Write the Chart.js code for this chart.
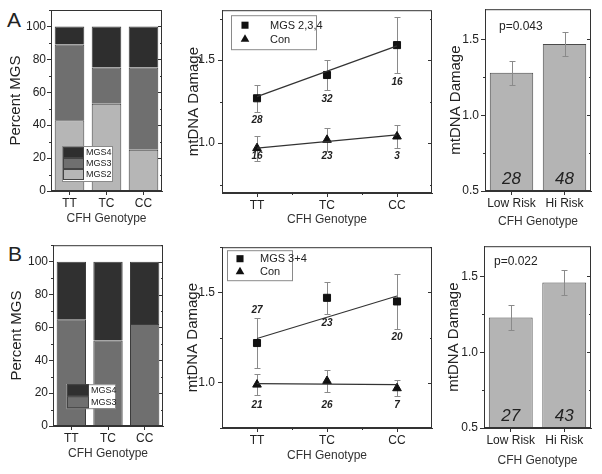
<!DOCTYPE html>
<html>
<head>
<meta charset="utf-8">
<script src="https://cdn.jsdelivr.net/npm/chart.js@4.4.1/dist/chart.umd.min.js"></script>
<style>
  body { margin: 0; background: #fff; width: 602px; height: 474px; position: relative; overflow: hidden;
         font-family: "Liberation Sans", Arial, sans-serif; }
  canvas { position: absolute; }
  .panel { position: absolute; font-size: 21px; line-height: 20px; color: #222; }
</style>
</head>
<body>
<div class="panel" style="left:7px;top:10px">A</div>
<div class="panel" style="left:8px;top:244px">B</div>
<canvas id="a1"></canvas>
<canvas id="a2"></canvas>
<canvas id="a3"></canvas>
<canvas id="b1"></canvas>
<canvas id="b2"></canvas>
<canvas id="b3"></canvas>
<script>
// categories
const genotypes = ['TT', 'TC', 'CC'];
const riskGroups = ['Low Risk', 'Hi Risk'];

// A: percent MGS per genotype
const aMgs2 = [43, 53, 25];
const aMgs3 = [46, 22, 50];
const aMgs4 = [11, 25, 25];
// B: percent MGS per genotype
const bMgs3 = [65, 52, 62];
const bMgs4 = [35, 48, 38];

// A: mtDNA damage by genotype
const aMgsMean = [1.27, 1.41, 1.59];
const aMgsErr = [0.08, 0.09, 0.17];
const aMgsN = [28, 32, 16];
const aConMean = [0.97, 1.02, 1.04];
const aConErr = [0.075, 0.07, 0.07];
const aConN = [16, 23, 3];
const aMgsFit = [1.28, 1.585];   // fitted line at TT and CC
const aConFit = [0.97, 1.05];

// B: mtDNA damage by genotype
const bMgsMean = [1.22, 1.47, 1.45];
const bMgsErr = [0.14, 0.09, 0.15];
const bMgsN = [27, 23, 20];
const bConMean = [0.99, 1.01, 0.97];
const bConErr = [0.06, 0.06, 0.045];
const bConN = [21, 26, 7];
const bMgsFit = [1.245, 1.48];
const bConFit = [0.995, 0.99];

// risk groups
const aRiskMean = [1.28, 1.47];
const aRiskErr = [0.08, 0.08];
const aRiskN = [28, 48];
const aPval = 'p=0.043';
const bRiskMean = [1.23, 1.46];
const bRiskErr = [0.08, 0.08];
const bRiskN = [27, 43];
const bPval = 'p=0.022';

const FONT = '"Liberation Sans", Arial, sans-serif';
Chart.defaults.font.family = FONT;
Chart.defaults.color = '#222';
Chart.defaults.animation = false;

const isMult = (v, s) => Math.abs(v / s - Math.round(v / s)) < 1e-6;

// box around plot + minor / mirrored ticks
const frame = {
  id: 'frame',
  afterDraw(chart, args, opts) {
    const {ctx, chartArea: ca} = chart;
    const ys = chart.scales.y, xs = chart.scales.x;
    ctx.save();
    ctx.strokeStyle = '#333';
    ctx.lineWidth = 1;
    ctx.strokeRect(ca.left + 0.5, ca.top + 0.5, ca.width - 1, ca.height - 1);
    if (opts.minor) {
      const start = Math.ceil(ys.min / opts.minor - 1e-9) * opts.minor;
      ctx.beginPath();
      for (let v = start; v <= ys.max + 1e-9; v += opts.minor) {
        const y = Math.round(ys.getPixelForValue(v)) + 0.5;
        const major = isMult(v, opts.major);
        if (!major) { ctx.moveTo(ca.left, y); ctx.lineTo(ca.left - 2, y); }
        ctx.moveTo(ca.right, y); ctx.lineTo(ca.right - (major ? 4 : 2), y);
      }
      if (opts.minorX) {
        for (let i = 1; i < xs.ticks.length; i++) {
          const x = Math.round((xs.getPixelForTick(i) + xs.getPixelForTick(i - 1)) / 2) + 0.5;
          ctx.moveTo(x, ca.bottom); ctx.lineTo(x, ca.bottom + 2);
        }
      }
      ctx.stroke();
    }
    ctx.restore();
  }
};

function drawErr(chart, onTop) {
  const {ctx} = chart;
  const ys = chart.scales.y;
  chart.data.datasets.forEach((ds, di) => {
    if (!ds.errors || !!ds.errOnTop !== onTop) return;
    const meta = chart.getDatasetMeta(di);
    ctx.save();
    ctx.strokeStyle = '#8a8a8a';
    ctx.lineWidth = 1;
    ctx.beginPath();
    ds.errors.forEach((e, i) => {
      const x = Math.round(meta.data[i].x) + 0.5;
      const hi = Math.round(ys.getPixelForValue(ds.data[i] + e)) + 0.5;
      const lo = Math.round(ys.getPixelForValue(ds.data[i] - e)) + 0.5;
      ctx.moveTo(x, hi); ctx.lineTo(x, lo);
      ctx.moveTo(x - 3, hi); ctx.lineTo(x + 3, hi);
      ctx.moveTo(x - 3, lo); ctx.lineTo(x + 3, lo);
    });
    ctx.stroke();
    ctx.restore();
  });
}

const errBars = {
  id: 'errBars',
  beforeDatasetsDraw(chart) { drawErr(chart, false); },
  afterDatasetsDraw(chart) { drawErr(chart, true); }
};

// n counts next to the points / inside bars, and the p value
const counts = {
  id: 'counts',
  afterDatasetsDraw(chart, args, opts) {
    const {ctx, chartArea: ca} = chart;
    const ys = chart.scales.y;
    ctx.save();
    ctx.textAlign = 'center';
    ctx.textBaseline = 'middle';
    ctx.fillStyle = '#222';
    chart.data.datasets.forEach((ds, di) => {
      if (!ds.counts) return;
      const meta = chart.getDatasetMeta(di);
      ds.counts.forEach((n, i) => {
        const x = meta.data[i].x;
        let y;
        const pos = ds.countPos ? ds.countPos[i] : null;
        if (ds.countRow !== undefined) y = ys.getPixelForValue(ds.countRow);
        else if (pos === 'above') y = ys.getPixelForValue(ds.data[i] + ds.errors[i]) - 7;
        else if (pos === 'below') y = ys.getPixelForValue(ds.data[i] - ds.errors[i]) + 9;
        else y = ca.bottom - 12;
        ctx.font = ds.countFont;
        ctx.fillText(String(n), x, y);
      });
    });
    if (opts.text) {
      ctx.textAlign = 'left';
      ctx.font = '12px ' + FONT;
      ctx.fillText(opts.text, ca.left + opts.dx, ca.top + opts.dy);
    }
    ctx.restore();
  }
};

// legend box inside the plot
function marker(ctx, style, x, y, r) {
  ctx.beginPath();
  if (style === 'rect') {
    const s = r * Math.SQRT1_2;
    ctx.rect(x - s, y - s, 2 * s, 2 * s);
  } else {
    ctx.moveTo(x, y - r);
    ctx.lineTo(x + r * 0.866, y + r * 0.5);
    ctx.lineTo(x - r * 0.866, y + r * 0.5);
    ctx.closePath();
  }
  ctx.fill();
}

const boxLegend = {
  id: 'boxLegend',
  afterDatasetsDraw(chart, args, opts) {
    if (!opts.items) return;
    const {ctx, chartArea: ca} = chart;
    const x0 = ca.left + opts.x, y0 = ca.top + opts.y;
    const h = opts.rowH * opts.items.length + 2 * opts.pad;
    ctx.save();
    ctx.fillStyle = '#fff';
    ctx.fillRect(x0, y0, opts.w, h);
    ctx.strokeStyle = '#8a8a8a';
    ctx.lineWidth = 1;
    ctx.strokeRect(x0 + 0.5, y0 + 0.5, opts.w, h);
    ctx.font = opts.fontSize + 'px ' + FONT;
    ctx.textBaseline = 'middle';
    opts.items.forEach((di, i) => {
      const ds = chart.data.datasets[di];
      const ry = y0 + opts.pad + i * opts.rowH;
      if (ds.type === 'bar' || chart.config.type === 'bar') {
        ctx.fillStyle = ds.backgroundColor;
        ctx.fillRect(x0 + 1, ry, opts.sw, opts.rowH);
        ctx.strokeStyle = '#444';
        ctx.strokeRect(x0 + 1.5, ry + 0.5, opts.sw - 1, opts.rowH - 1);
      } else {
        ctx.fillStyle = '#111';
        marker(ctx, ds.pointStyle, x0 + opts.sw / 2, ry + opts.rowH / 2, 5);
      }
      ctx.fillStyle = '#222';
      ctx.fillText(ds.label, x0 + opts.sw + opts.gap, ry + opts.rowH / 2 + 0.5);
    });
    ctx.restore();
  }
};

function axes(o) {
  return {
    x: {
      type: 'category', offset: true, stacked: !!o.stacked,
      grid: { display: true, drawOnChartArea: false, drawTicks: true, tickLength: 4, offset: false, color: '#333' },
      border: { display: true, color: '#333' },
      ticks: { color: '#222', font: { size: 12 }, padding: 1, maxRotation: 0, autoSkip: false },
      title: { display: true, text: 'CFH Genotype', color: '#333', font: { size: 12 }, padding: { top: 0, bottom: o.xTitlePad } },
      afterFit: s => { s.height = o.xH; }
    },
    y: {
      min: o.min, max: o.max, stacked: !!o.stacked,
      grid: { drawOnChartArea: false, drawTicks: true, tickLength: 4, color: '#333' },
      border: { display: true, color: '#333' },
      ticks: { stepSize: o.minor, color: '#222', font: { size: 12 }, padding: o.tickPad, callback: o.fmt },
      title: { display: true, text: o.yTitle, color: '#222', font: { size: 15 }, padding: { top: o.yTitlePad, bottom: 0 } },
      afterBuildTicks: s => { s.ticks = s.ticks.filter(t => isMult(t.value, o.step)); },
      afterFit: s => { s.width = o.yW; }
    }
  };
}

function place(id, left, top, w, h) {
  const c = document.getElementById(id);
  c.width = w; c.height = h;
  c.style.left = left + 'px'; c.style.top = top + 'px';
  c.style.width = w + 'px'; c.style.height = h + 'px';
  return c;
}

const basePlugins = [frame, errBars, counts, boxLegend];

function stackChart(id, top, area, sets, legend, xTitlePad, yTitlePad) {
  const c = place(id, 0, top, 175, 237);
  new Chart(c, {
    type: 'bar',
    data: {
      labels: genotypes,
      datasets: sets.map(s => ({
        label: s.label, data: s.data, backgroundColor: s.color,
        borderColor: '#3c3c3c', borderWidth: 1, barPercentage: 0.8, categoryPercentage: 1
      }))
    },
    options: {
      responsive: false,
      layout: { padding: { left: 0, top: area.t - top, right: 175 - area.r, bottom: 0 } },
      scales: axes({ stacked: true, min: 0, max: 110, step: 20, minor: 10, fmt: v => v, tickPad: 1,
        yTitle: 'Percent MGS', yTitlePad: yTitlePad, yW: area.l, xH: top + 237 - area.b, xTitlePad: xTitlePad }),
      plugins: { legend: { display: false }, tooltip: { enabled: false },
        frame: { minor: 10, major: 20 }, boxLegend: legend }
    },
    plugins: basePlugins
  });
}

function lineChart(id, top, area, yMin, yMax, mgs, con, legend, xTitlePad, yTitlePad) {
  const c = place(id, 175, top, 270, 237);
  const pt = { showLine: false, borderColor: '#111', backgroundColor: '#111', errOnTop: false,
    countFont: 'italic bold 10px ' + FONT };
  const fit = f => ({ type: 'line', data: [{ x: 'TT', y: f[0] }, { x: 'CC', y: f[1] }],
    borderColor: '#333', borderWidth: 1.2, pointRadius: 0 });
  new Chart(c, {
    type: 'line',
    data: {
      labels: genotypes,
      datasets: [
        fit(mgs.fit), fit(con.fit),
        Object.assign({ label: mgs.label, data: mgs.mean, errors: mgs.err, counts: mgs.n, countPos: mgs.pos,
          pointStyle: 'rect', pointRadius: 5 }, pt),
        Object.assign({ label: 'Con', data: con.mean, errors: con.err, counts: con.n, countRow: con.row,
          pointStyle: 'triangle', pointRadius: 5 }, pt)
      ]
    },
    options: {
      responsive: false,
      layout: { padding: { left: 0, top: area.t - top, right: 445 - area.r, bottom: 0 } },
      scales: axes({ min: yMin, max: yMax, step: 0.5, minor: 0.25, fmt: v => v.toFixed(1), tickPad: 3,
        yTitle: 'mtDNA Damage', yTitlePad: yTitlePad, yW: area.l - 175, xH: top + 237 - area.b, xTitlePad: xTitlePad }),
      plugins: { legend: { display: false }, tooltip: { enabled: false },
        frame: { minor: 0.25, major: 0.5, minorX: true }, boxLegend: legend }
    },
    plugins: basePlugins
  });
}

function riskChart(id, top, area, mean, err, n, pval, pPos, xTitlePad, yTitlePad) {
  const c = place(id, 445, top, 157, 237);
  new Chart(c, {
    type: 'bar',
    data: {
      labels: riskGroups,
      datasets: [{ data: mean, errors: err, errOnTop: true, counts: n, countFont: 'italic 17px ' + FONT,
        backgroundColor: '#b4b4b4', borderColor: '#4a4a4a', borderWidth: 1,
        barPercentage: 0.82, categoryPercentage: 1 }]
    },
    options: {
      responsive: false,
      layout: { padding: { left: 0, top: area.t - top, right: 602 - area.r, bottom: 0 } },
      scales: axes({ min: 0.5, max: 1.7, step: 0.5, minor: 0.25, fmt: v => v.toFixed(1), tickPad: 2,
        yTitle: 'mtDNA Damage', yTitlePad: yTitlePad, yW: area.l - 445, xH: top + 237 - area.b, xTitlePad: xTitlePad }),
      plugins: { legend: { display: false }, tooltip: { enabled: false },
        frame: { minor: 0.25, major: 0.5 }, counts: { text: pval, dx: pPos[0], dy: pPos[1] } }
    },
    plugins: basePlugins
  });
}

// row A
stackChart('a1', 0, { l: 51, t: 10, r: 162, b: 191 }, [
  { label: 'MGS2', data: aMgs2, color: '#b6b6b6' },
  { label: 'MGS3', data: aMgs3, color: '#6f6f6f' },
  { label: 'MGS4', data: aMgs4, color: '#2e2e2e' }
], { items: [2, 1, 0], x: 11, y: 136, w: 50, rowH: 11, pad: 1, sw: 21, gap: 3, fontSize: 9 }, 11, 7);

lineChart('a2', 0, { l: 222, t: 9, r: 432, b: 193 }, 0.7, 1.8,
  { label: 'MGS 2,3,4', mean: aMgsMean, err: aMgsErr, n: aMgsN, pos: ['below', 'below', 'below'], fit: aMgsFit },
  { mean: aConMean, err: aConErr, n: aConN, row: 0.92, fit: aConFit },
  { items: [2, 3], x: 9, y: 5, w: 85, rowH: 14, pad: 3, sw: 28, gap: 11, fontSize: 11 }, 10, 10);

riskChart('a3', 0, { l: 485, t: 9, r: 591, b: 191 }, aRiskMean, aRiskErr, aRiskN, aPval, [14, 17], 8, 2);

// row B
stackChart('b1', 237, { l: 53, t: 242, r: 163, b: 426 }, [
  { label: 'MGS3', data: bMgs3, color: '#6f6f6f' },
  { label: 'MGS4', data: bMgs4, color: '#303030' }
], { items: [1, 0], x: 13, y: 139, w: 49, rowH: 12, pad: 0, sw: 22, gap: 3, fontSize: 9 }, 13, 8);

lineChart('b2', 237, { l: 222, t: 245, r: 432, b: 428 }, 0.75, 1.75,
  { label: 'MGS 3+4', mean: bMgsMean, err: bMgsErr, n: bMgsN, pos: ['above', 'below', 'below'], fit: bMgsFit },
  { mean: bConMean, err: bConErr, n: bConN, row: 0.875, fit: bConFit },
  { items: [2, 3], x: 5, y: 3, w: 65, rowH: 13, pad: 2, sw: 26, gap: 7, fontSize: 11 }, 11, 9);

riskChart('b3', 237, { l: 484, t: 245, r: 591, b: 428 }, bRiskMean, bRiskErr, bRiskN, bPval, [10, 15], 6, 0);
</script>
</body>
</html>
